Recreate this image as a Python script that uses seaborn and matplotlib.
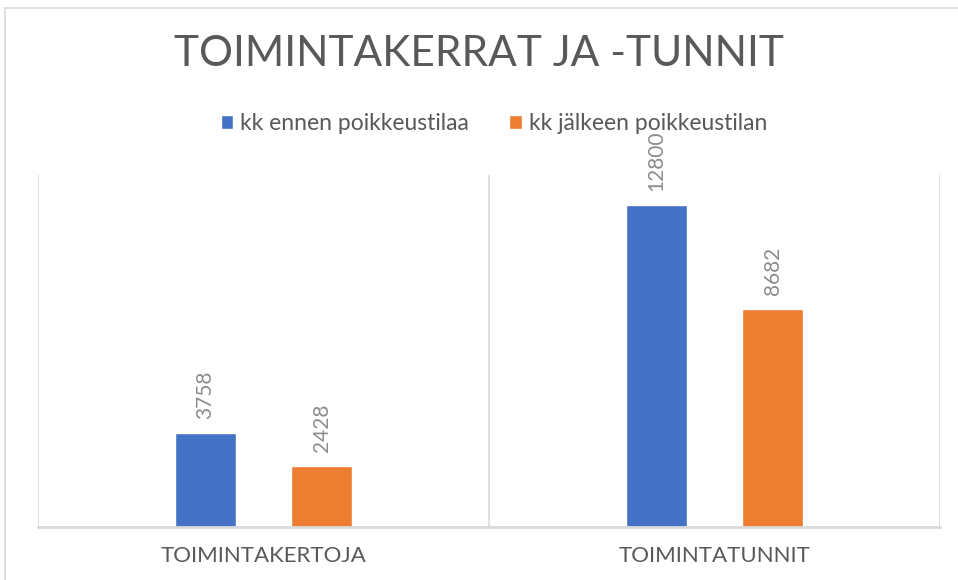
import matplotlib
matplotlib.use("Agg")
import matplotlib.pyplot as plt
import seaborn as sns
import pandas as pd
from matplotlib.patches import Rectangle, Patch


# =====================================
# DATA
# =====================================

categories = ["TOIMINTAKERTOJA", "TOIMINTATUNNIT"]

series_names = ["kk ennen poikkeustilaa", "kk jälkeen poikkeustilan"]

before_values = [3758, 12800]

after_values = [2428, 8682]

colors = ["#4472C4", "#ED7D31"]

df = pd.DataFrame({
    "category": categories * 2,
    "series": [series_names[0]] * 2 + [series_names[1]] * 2,
    "value": before_values + after_values,
})


# =====================================
# STYLE
# =====================================

sns.set_style("white")
plt.rcParams["font.family"] = ["Lato", "DejaVu Sans"]

text_gray = "#595959"
label_gray = "#8C8C8C"
grid_gray = "#D9D9D9"


# =====================================
# FIGURE
# =====================================

fig = plt.figure(figsize=(9.58, 5.8), dpi=100)

# outer chart border
fig.patches.append(Rectangle(
    (5 / 958, -0.1), 1.1, (580 - 8) / 580 + 0.1,
    transform=fig.transFigure, fill=False,
    edgecolor=grid_gray, linewidth=1.2
))

ax = fig.add_axes([38 / 958, 53 / 580, 902 / 958, 352 / 580])

sns.barplot(
    data=df,
    x="category",
    y="value",
    hue="series",
    palette=colors,
    saturation=1,
    width=0.516,
    gap=0.48,
    ax=ax,
    legend=False,
)

ax.set_ylim(0, 14000)
ax.set_xlim(-0.5, 1.5)

for xv in [-0.5, 0.5, 1.5]:
    ax.axvline(xv, color=grid_gray, linewidth=1.2, zorder=0)

for side in ["top", "right", "left"]:
    ax.spines[side].set_visible(False)
ax.spines["bottom"].set_color(grid_gray)
ax.spines["bottom"].set_linewidth(2)

ax.set_yticks([])
ax.set_xlabel("")
ax.set_ylabel("")
ax.tick_params(axis="x", length=0, pad=14, labelsize=16, labelcolor=text_gray)

for container in ax.containers:
    ax.bar_label(
        container,
        labels=[f"{int(v)}" for v in container.datavalues],
        rotation=90,
        padding=10,
        color=label_gray,
        fontsize=15,
    )

fig.text(0.5, 1 - 54 / 580, "TOIMINTAKERRAT JA -TUNNIT",
         ha="center", va="center", fontsize=30.5, color=text_gray)

handles = [Patch(facecolor=c) for c in colors]
fig.legend(
    handles, series_names,
    loc="center", bbox_to_anchor=(494 / 958, 1 - 124 / 580),
    ncol=2, frameon=False, fontsize=16.5,
    labelcolor=text_gray,
    handlelength=0.55, handleheight=0.55, handletextpad=0.3,
    columnspacing=1.75,
)

plt.savefig("out.png", dpi=100)
plt.close()
